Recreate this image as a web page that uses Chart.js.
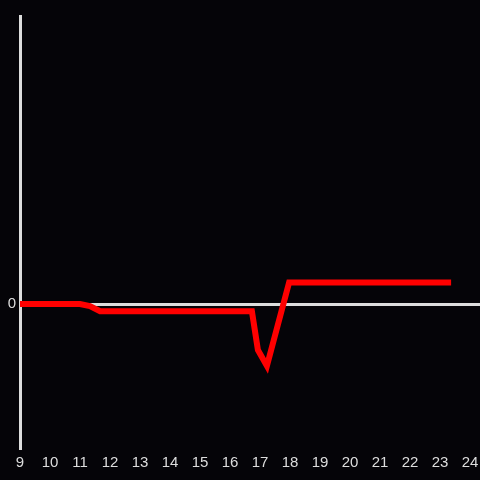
<!DOCTYPE html>
<html>
<head>
<meta charset="utf-8">
<script src="https://cdn.jsdelivr.net/npm/chart.js@4/dist/chart.umd.min.js"></script>
<style>
  html, body { margin: 0; padding: 0; background: #050408; }
  #wrap { width: 480px; height: 480px; }
</style>
</head>
<body>
<div id="wrap"><canvas id="chart"></canvas></div>
<script>
const hours = [9, 11, 11.33, 11.67, 16.73, 16.93, 17.23, 17.97, 23.37];
const values = [0, 0, -0.15, -0.5, -0.5, -3.2, -4.3, 1.5, 1.5];
const hourTicks = [9, 10, 11, 12, 13, 14, 15, 16, 17, 18, 19, 20, 21, 22, 23, 24];
const valueTicks = [0];

const points = hours.map((h, i) => ({ x: h, y: values[i] }));

const config = {
  type: "line",
  data: {
    datasets: [
      {
        data: points,
        borderColor: "#ff0000",
        backgroundColor: "#ff0000",
        borderWidth: 6,
        pointRadius: 0,
        tension: 0,
        borderCapStyle: "butt",
        borderJoinStyle: "miter",
      },
    ],
  },
  options: {
    responsive: true,
    maintainAspectRatio: false,
    animation: false,
    layout: { padding: { top: 16, right: 0, left: 0, bottom: 0 } },
    plugins: {
      legend: { display: false },
      tooltip: { enabled: false },
    },
    scales: {
      x: {
        type: "linear",
        min: 9,
        max: 24.333,
        afterBuildTicks: (s) => {
          s.ticks = hourTicks.map((v) => ({ value: v }));
        },
        afterFit: (s) => {
          s.height = 32;
          s.paddingLeft = 0;
          s.paddingRight = 0;
        },
        grid: { display: false, drawTicks: false },
        border: { display: false },
        ticks: {
          color: "#dddddd",
          font: { family: "Liberation Sans", size: 15 },
          padding: 6,
          maxRotation: 0,
          autoSkip: false,
        },
      },
      y: {
        min: -10,
        max: 20,
        afterBuildTicks: (s) => {
          s.ticks = valueTicks.map((v) => ({ value: v }));
        },
        afterFit: (s) => {
          s.width = 20;
          s.paddingTop = 0;
          s.paddingBottom = 0;
        },
        grid: { color: "#dddddd", lineWidth: 3, drawTicks: false },
        border: { display: true, color: "#dddddd", width: 3 },
        ticks: {
          color: "#dddddd",
          font: { family: "Liberation Sans", size: 15 },
          padding: 4,
        },
      },
    },
  },
};

new Chart(document.getElementById("chart"), config);
</script>
</body>
</html>
